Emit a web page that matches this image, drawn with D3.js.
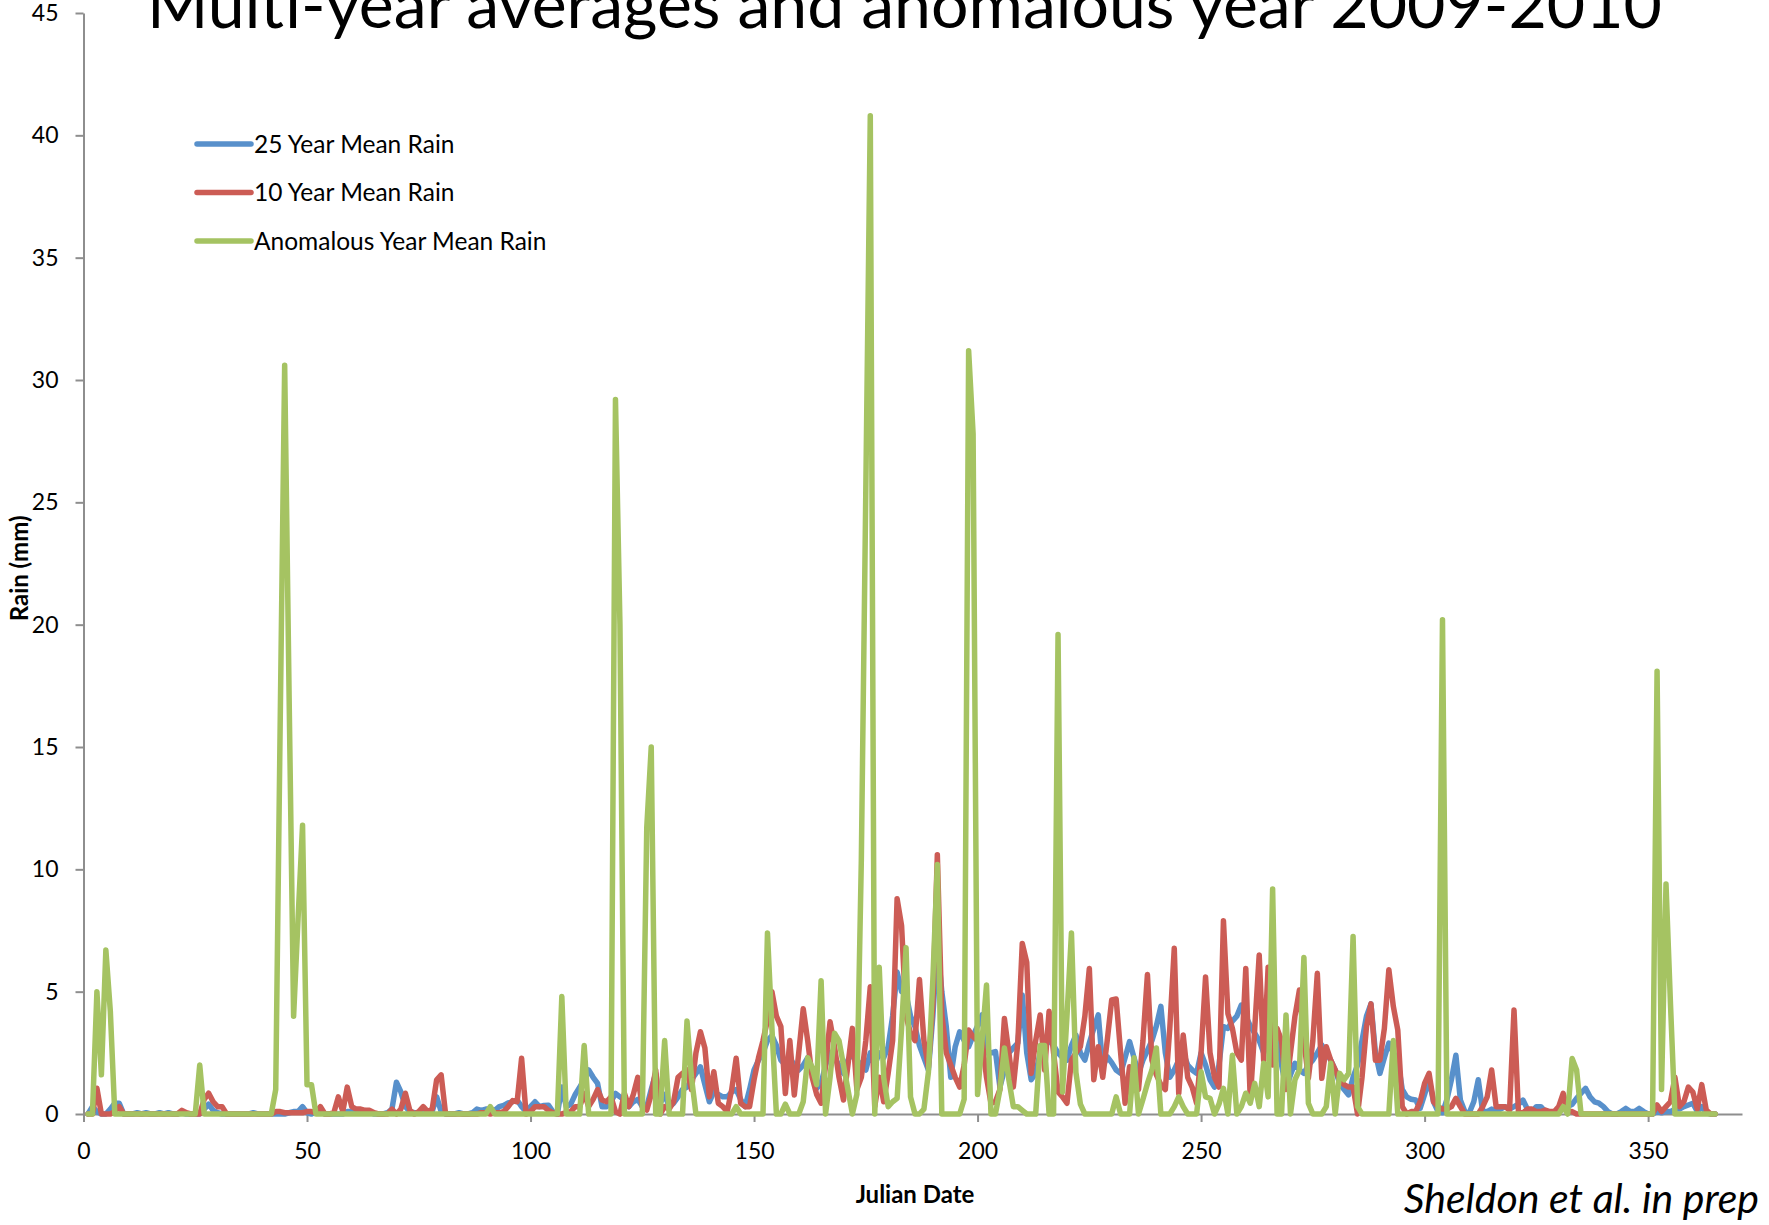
<!DOCTYPE html>
<html lang="en">
<head>
<meta charset="utf-8" />
<script src="https://cdnjs.cloudflare.com/ajax/libs/d3/7.8.5/d3.min.js"></script>
<style>
  html, body { margin: 0; padding: 0; background: #fff; }
  svg { display: block; font-family: Lato, "Open Sans", sans-serif; }
</style>
<title>Multi-year averages</title>
</head>
<body>
<div id="chart"></div>
<script>
// rain (mm) per Julian day 1..365
const mean25 = [
  0,0.3,0.1,0,0,0.2,0.44,0.44,0,0,
  0,0.05,0,0.05,0,0,0.05,0,0.05,0,
  0,0.05,0,0,0,0,0.2,0.4,0.15,0.05,
  0,0,0,0,0,0,0,0.05,0,0,
  0,0,0,0,0,0.05,0.1,0.1,0.3,0.05,
  0,0.1,0.1,0,0,0,0,0,0.1,0.1,
  0.1,0.1,0.05,0.1,0,0,0,0.05,0.2,1.3,
  0.9,0.3,0.1,0.05,0.05,0.1,0.05,0.1,0.7,0.1,
  0,0,0,0.05,0,0,0.05,0.2,0.15,0.2,
  0.2,0.15,0.3,0.35,0.45,0.5,0.57,0.3,0.1,0.3,
  0.5,0.3,0.35,0.36,0.1,0,1.1,0.3,0.4,0.8,
  1.1,1.4,1.8,1.5,1.25,0.3,0.3,0.5,0.84,0.7,
  0.57,0.3,0.5,0.6,0.3,0.3,1.0,1.66,0.44,0.8,
  0.3,0.44,0.7,1.0,1.1,1.4,1.66,1.93,1.2,0.5,
  0.9,0.8,0.7,0.7,0.9,1.0,0.6,0.3,1.0,1.8,
  2.2,2.5,3.0,3.2,2.8,2.2,2.0,2.3,2.0,1.8,
  2.0,2.3,1.8,1.05,1.25,2.0,2.5,2.3,2.0,1.66,
  2.2,2.5,2.2,2.0,1.8,2.5,2.0,2.5,2.3,2.75,
  4.0,5.8,5.0,4.9,4.0,3.57,2.8,2.3,1.8,4.0,
  7.0,5.0,3.57,1.5,2.75,3.36,3.0,2.75,3.2,3.6,
  4.05,2.5,2.5,2.55,1.1,1.8,2.5,2.7,2.9,4.86,
  2.5,1.4,1.66,2.5,2.9,3.0,2.8,2.5,2.3,2.2,
  2.8,3.23,2.5,2.2,2.9,3.5,4.05,1.93,2.34,2.1,
  1.8,1.66,2.3,2.96,2.3,1.66,2.2,2.6,3.0,3.6,
  4.4,2.5,1.5,1.8,2.2,2.5,2.0,1.8,1.66,2.5,
  2.0,1.4,1.1,2.0,3.57,3.5,3.8,4.0,4.45,4.0,
  3.6,3.3,3.0,2.5,3.0,3.36,3.0,2.0,1.05,1.6,
  2.07,1.8,1.66,2.0,2.2,2.5,2.82,2.5,2.2,1.8,
  1.25,1.0,0.78,1.5,2.0,3.0,4.0,4.5,2.5,1.66,
  2.3,2.9,2.5,2.2,1.0,0.7,0.6,0.57,0.23,0.8,
  1.4,0.5,0.1,0.05,0.6,1.4,2.4,0.57,0.1,0.05,
  0.5,1.4,0.1,0.1,0.2,0.1,0.2,0.3,0.2,0.3,
  0.4,0.57,0.2,0.1,0.3,0.3,0.1,0.05,0.1,0.1,
  0.2,0.3,0.4,0.64,0.85,1.05,0.7,0.5,0.44,0.3,
  0.1,0,0,0.1,0.23,0.1,0.1,0.23,0.1,0,
  0,0.1,0.05,0.1,0.1,0.2,0.2,0.3,0.37,0.44,
  0.1,0.3,0.05,0,0
];

const mean10 = [
  0,0,1.05,0,0,0,0.1,0.3,0,0,
  0,0,0,0,0,0,0,0,0,0,
  0,0.15,0.05,0,0,0,0.6,0.85,0.5,0.3,
  0.3,0,0,0,0,0,0,0,0,0,
  0,0,0.1,0.1,0.05,0.05,0.05,0.05,0.05,0.1,
  0.1,0.05,0.3,0,0,0.05,0.7,0.1,1.1,0.3,
  0.2,0.2,0.15,0.15,0.05,0,0,0,0.2,0,
  0.2,0.85,0.15,0,0.1,0.3,0.1,0.2,1.4,1.6,
  0,0,0,0,0,0,0,0,0.05,0.05,
  0,0.05,0.05,0.1,0.3,0.55,0.5,2.28,0,0.1,
  0.3,0.3,0.3,0.15,0.05,0,0,0.05,0.1,0.3,
  0.3,0.84,0.3,0.6,1.0,0.57,0.5,0.7,0.1,0,
  0.84,0.3,0.8,1.5,0.3,0.16,0.8,1.8,0,0.3,
  0.2,0.5,1.5,1.66,1.8,1.0,2.5,3.36,2.7,0.7,
  1.73,0.44,0.3,0.1,1.0,2.28,0.44,0.3,0.3,1.4,
  2.3,3.0,3.84,5.0,4.0,3.57,0.84,3.0,0.78,2.5,
  4.3,3.0,1.5,0.8,0.44,2.0,3.77,2.75,1.5,0.57,
  2.0,3.5,1.0,1.5,3.0,5.2,0.3,1.5,0.5,1.66,
  3.0,8.8,7.7,4.0,3.3,3.0,5.5,3.0,1.9,4.5,
  10.6,4.1,2.5,2.0,1.5,1.1,2.0,3.43,3.16,3.0,
  3.0,1.5,0.44,0.5,1.0,3.9,2.5,1.1,2.9,6.97,
  6.2,1.66,3.0,4.05,1.8,4.2,2.5,0.9,0.7,0.44,
  2.2,2.5,2.75,4.0,5.95,1.4,2.75,1.5,3.0,4.66,
  4.7,2.5,0.44,1.93,1.5,1.0,3.0,5.7,2.2,1.6,
  1.2,1.0,3.5,6.77,0.84,3.23,1.5,1.1,0.44,2.5,
  5.6,2.5,1.5,1.1,7.9,4.1,3.5,2.5,2.2,5.95,
  0.57,3.5,6.5,2.2,6.0,2.0,3.5,3.0,1.0,2.5,
  4.0,5.07,3.0,1.46,3.0,5.75,1.46,2.75,2.2,1.8,
  1.4,1.2,1.1,1.1,0,1.5,3.57,4.5,2.2,2.2,
  3.5,5.9,4.4,3.43,0.3,0,0.1,0.1,0.5,1.25,
  1.66,0.5,0.3,0.2,0.2,0.3,0.64,0.3,0,0,
  0,0,0.3,0.7,1.8,0.3,0.3,0.3,0.16,4.25,
  0.05,0.05,0.2,0.2,0.1,0.1,0.16,0.1,0.1,0.3,
  0.84,0.1,0.1,0,0,0,0,0,0,0,
  0,0,0,0,0,0,0,0,0,0,
  0,0.37,0.1,0.3,0.5,1.5,0.3,0.5,1.1,0.9,
  0.2,1.2,0.16,0,0
];

const anomalous = [
  0,0,5.0,1.6,6.7,4.2,0,0,0,0,
  0,0,0,0,0,0,0,0,0,0,
  0,0,0,0,0,2.0,0,0,0,0,
  0,0,0,0,0,0,0,0,0,0,
  0,0,1.0,16,30.6,17,4.0,8,11.8,1.2,
  1.2,0,0,0,0,0,0,0,0,0,
  0,0,0,0,0,0,0,0,0,0,
  0,0,0,0,0,0,0,0,0,0,
  0,0,0,0,0,0,0,0,0,0,
  0.3,0,0,0,0,0,0,0,0,0,
  0,0,0,0,0,0,4.8,0,0,0,
  0,2.8,0,0,0,0,0,0,29.2,20,
  0,0,0,0,0,11.7,15.0,0,0,3.0,
  0,0,0,0,3.8,1.5,0,0,0,0,
  0,0,0,0,0,0.3,0,0,0,0,
  0,0,7.4,3.5,0,0,0.4,0,0,0,
  0.5,2.3,1.9,1.2,5.45,0,1.5,3.3,3.0,2.0,
  1.0,0,0.8,10.4,25.5,40.8,0,6.0,1.5,0.3,
  0.5,0.64,3.5,6.8,0.7,0,0,0.2,1.7,5.5,
  10.2,0,0,0,0,0,0.6,31.2,27.8,0.8,
  3.0,5.27,0,0,1.0,2.7,1.4,0.3,0.3,0.15,
  0,0,0,2.8,2.8,0,0,19.6,0.9,4.0,
  7.4,1.7,0.4,0,0,0,0,0,0,0,
  0.7,0,0,0,2.3,0,0.6,1.25,1.8,2.7,
  0,0,0,0.3,0.7,0.3,0,0,0,1.73,
  0.7,0.64,0,0.4,1.05,0,2.4,0,0.3,0.85,
  0.44,1.25,0.3,2.07,0.7,9.2,0,0,4.05,0,
  1.4,1.8,6.4,0.44,0,0,0,0.3,2.07,0,
  1.66,1.4,1.66,7.25,0.3,0,0,0,0,0,
  0,0,3.0,0,0,0,0,0,0,0,
  0,0,0,20.2,0,0,0,0,0,0,
  0,0,0,0,0,0,0,0,0,0,
  0,0,0,0,0,0,0,0,0,0,
  0.3,0,2.27,1.8,0,0,0,0,0,0,
  0,0,0,0,0,0,0,0,0,0,
  0,18.1,1.0,9.4,4.5,0,0,0,0,0,
  0,0,0,0,0
];

const seriesNames = ['25 Year Mean Rain', '10 Year Mean Rain', 'Anomalous Year Mean Rain'];
const xTicks = [0, 50, 100, 150, 200, 250, 300, 350];
const yTicks = [0, 5, 10, 15, 20, 25, 30, 35, 40, 45];

const width = 1769;
const height = 1225;
const margin = { top: 13, bottom: 111, left: 83.5, right: 27 };
const colors = ['#5890CB', '#CC5C55', '#A5C362'];
const axisGray = '#8e8e8e';

const svg = d3.select('#chart')
  .append('svg')
  .attr('width', width)
  .attr('height', height);

const x = d3.scaleLinear()
  .domain([0, 371])
  .range([margin.left, width - margin.right]);

const y = d3.scaleLinear()
  .domain([0, 45])
  .range([height - margin.bottom, margin.top]);

// axes
const yAxis = svg.append('g')
  .attr('transform', `translate(${margin.left},0)`)
  .call(d3.axisLeft(y).tickValues(yTicks).tickSize(8).tickSizeOuter(0).tickPadding(17));

const xAxis = svg.append('g')
  .attr('transform', `translate(0,${height - margin.bottom})`)
  .call(d3.axisBottom(x).tickValues(xTicks).tickSize(8).tickSizeOuter(0).tickPadding(21));

[xAxis, yAxis].forEach((g) => {
  g.selectAll('path, line').attr('stroke', axisGray).attr('stroke-width', 2);
  g.selectAll('text')
    .attr('fill', '#000')
    .style('font-family', 'Lato, sans-serif')
    .style('font-size', '23px');
});

// lines
const line = d3.line()
  .x((d, i) => x(i + 1))
  .y((d) => y(d));

[mean25, mean10, anomalous].forEach((vals, k) => {
  svg.append('path')
    .datum(vals)
    .attr('fill', 'none')
    .attr('stroke', colors[k])
    .attr('stroke-width', 5.5)
    .attr('stroke-linejoin', 'round')
    .attr('stroke-linecap', 'round')
    .attr('d', line);
});

// legend
const legend = svg.append('g').attr('transform', 'translate(197,144)');
seriesNames.forEach((name, k) => {
  const row = legend.append('g').attr('transform', `translate(0,${k * 48.5})`);
  row.append('line')
    .attr('x1', 0).attr('x2', 54)
    .attr('stroke', colors[k])
    .attr('stroke-width', 5.5)
    .attr('stroke-linecap', 'round');
  row.append('text')
    .attr('x', 57)
    .attr('dy', '0.36em')
    .style('font-size', '24.5px')
    .text(name);
});

// titles
const title = svg.append('text')
  .attr('x', 147)
  .attr('y', 28)
  .style('font-size', '60px')
  .text('Multi-year averages and anomalous year 2009-2010');
const tw = title.node().getComputedTextLength();
title.style('font-size', (60 * 1515 / tw) + 'px');

svg.append('text')
  .attr('x', 915)
  .attr('y', 1203)
  .attr('text-anchor', 'middle')
  .style('font-size', '24px')
  .style('font-weight', 'bold')
  .text('Julian Date');

svg.append('text')
  .attr('transform', `translate(28,${y(22.3)}) rotate(-90)`)
  .attr('text-anchor', 'middle')
  .style('font-size', '24px')
  .style('font-weight', 'bold')
  .text('Rain (mm)');

svg.append('text')
  .attr('x', 1759)
  .attr('y', 1213)
  .attr('text-anchor', 'end')
  .style('font-size', '41px')
  .style('font-style', 'italic')
  .text('Sheldon et al. in prep');
</script>
</body>
</html>
